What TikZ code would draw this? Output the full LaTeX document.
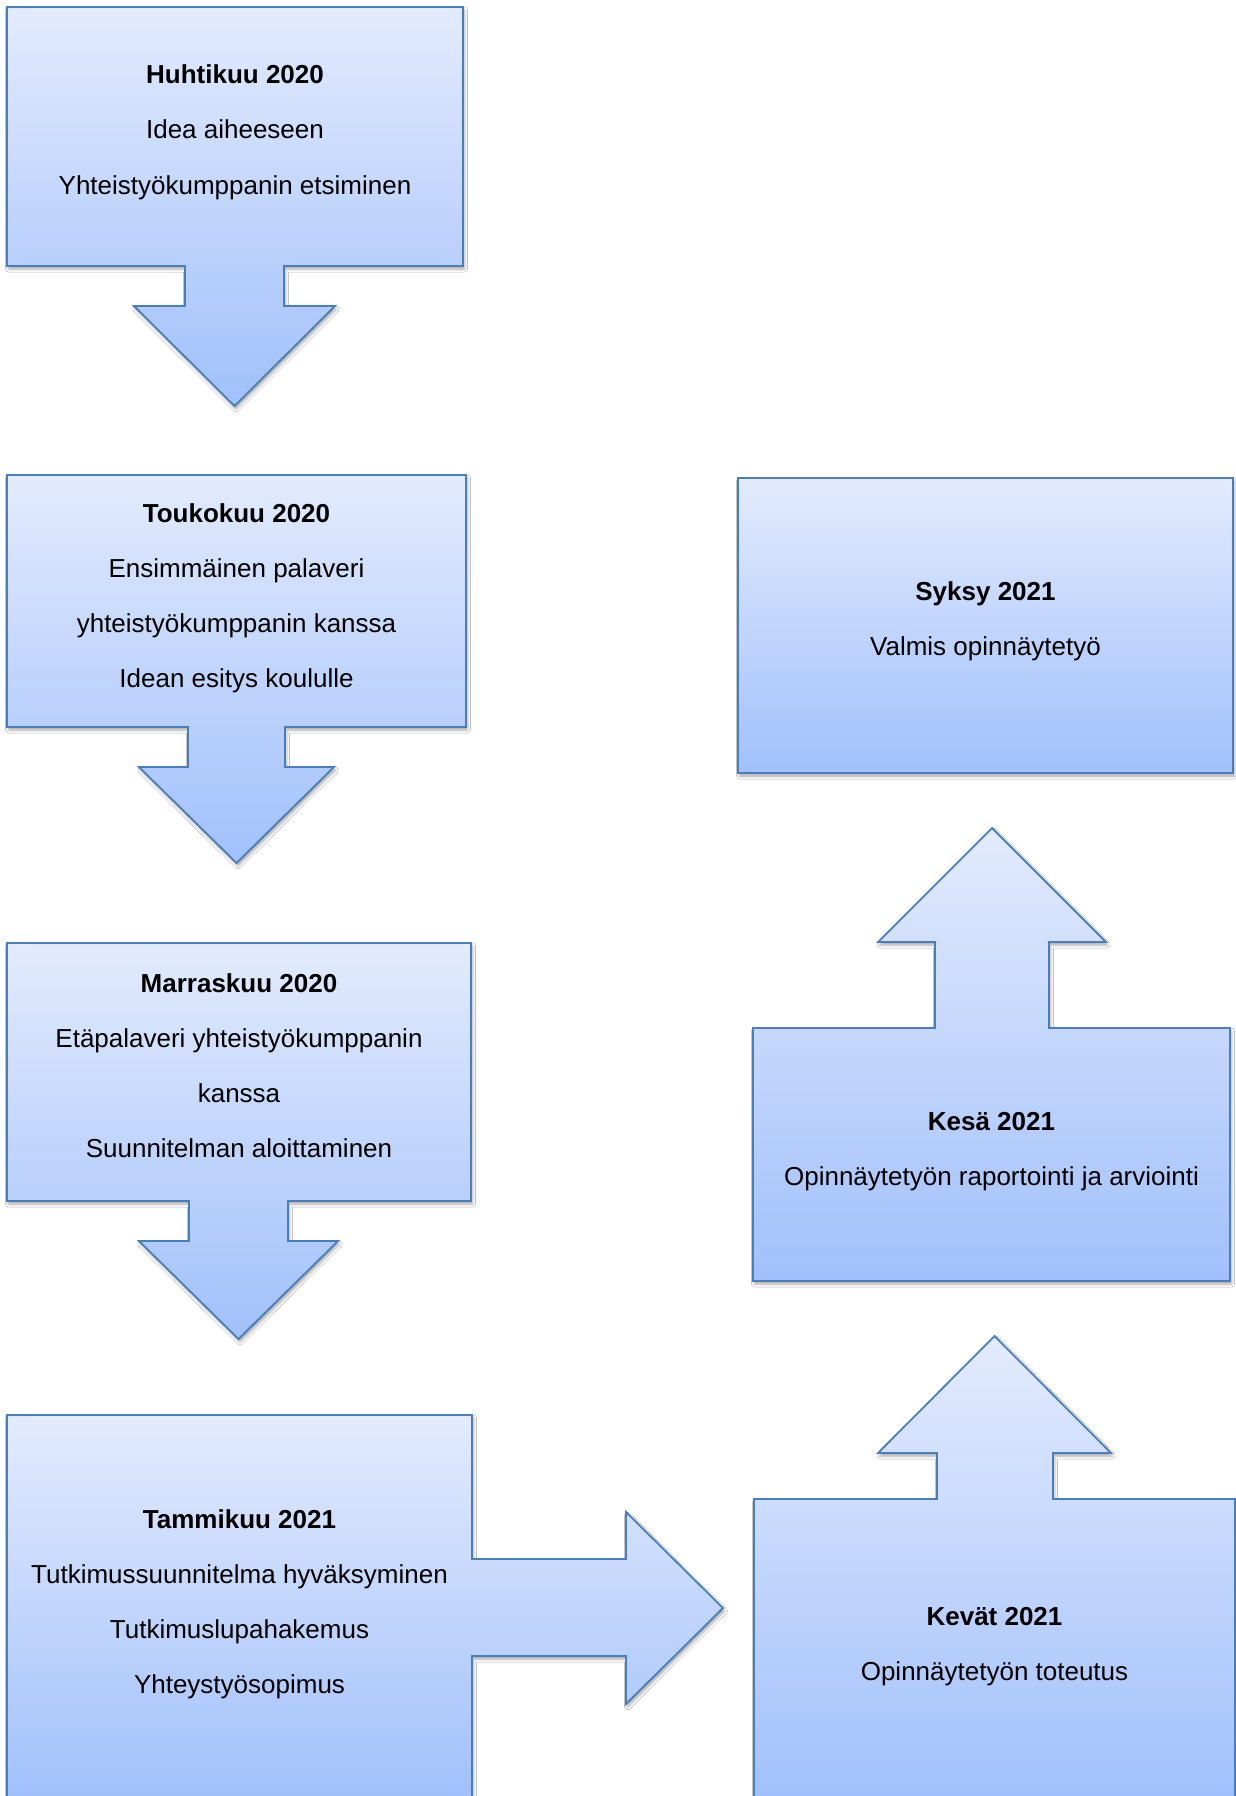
\documentclass[tikz,border=0pt]{standalone}
\usepackage{fontspec}
\setmainfont{Liberation Sans}
\usetikzlibrary{shadows.blur}
\definecolor{gtop}{RGB}{227,235,253}
\definecolor{gbot}{RGB}{161,192,251}
\definecolor{edge}{RGB}{74,126,187}
\begin{document}
\begin{tikzpicture}[x=1pt,y=-1pt,
  shapebox/.style={draw=edge, line width=1.8pt, line join=miter, top color=gtop, bottom color=gbot,
    blur shadow={shadow xshift=1.5pt, shadow yshift=-3pt, shadow blur radius=3pt, shadow opacity=35}},
  txt/.style={anchor=base, inner sep=0pt, font=\fontsize{26}{31}\selectfont, text=black}]
\useasboundingbox (0,0) rectangle (1236,1796);
\fill[white] (0,0) rectangle (1236,1796);
\clip (0,0) rectangle (1236,1796);
% Huhtikuu 2020
\path[shapebox] (7,7) -- (463,7) -- (463,266) -- (284,266) -- (284,306) -- (335,306) -- (234.5,406)
  -- (134,306) -- (185,306) -- (185,266) -- (7,266) -- cycle;
% Toukokuu 2020
\path[shapebox] (7,475) -- (466,475) -- (466,727) -- (285,727) -- (285,767) -- (334,767) -- (236.5,863)
  -- (139,767) -- (188,767) -- (188,727) -- (7,727) -- cycle;
% Marraskuu 2020
\path[shapebox] (7,943) -- (471,943) -- (471,1201) -- (288,1201) -- (288,1241) -- (338,1241) -- (238.5,1339)
  -- (139,1241) -- (189,1241) -- (189,1201) -- (7,1201) -- cycle;
% Tammikuu 2021
\path[shapebox] (7,1415) -- (472,1415) -- (472,1559) -- (626,1559) -- (626,1512) -- (723,1608)
  -- (626,1704) -- (626,1656) -- (472,1656) -- (472,1800) -- (7,1800) -- cycle;
% Kevät 2021
\path[shapebox] (754,1499) -- (937,1499) -- (937,1453) -- (878,1453) -- (994.5,1336) -- (1111,1453)
  -- (1053,1453) -- (1053,1499) -- (1235,1499) -- (1235,1800) -- (754,1800) -- cycle;
% Kesä 2021
\path[shapebox] (753,1028) -- (935,1028) -- (935,942) -- (878,942) -- (992,828) -- (1106,942)
  -- (1049,942) -- (1049,1028) -- (1230,1028) -- (1230,1281) -- (753,1281) -- cycle;
% Syksy 2021
\path[shapebox] (738,478) rectangle (1233,773);

% texts
\node[txt] (a1) at (235,83) {\textbf{Huhtikuu 2020}};
\node[txt] (a2) at (235,138) {Idea aiheeseen};
\node[txt] (a3) at (235,194) {Yhteistyökumppanin etsiminen};

\node[txt] (b1) at (236.5,522) {\textbf{Toukokuu 2020}};
\node[txt] (b2) at (236.5,577) {Ensimmäinen palaveri};
\node[txt] (b3) at (236.5,632) {yhteistyökumppanin kanssa};
\node[txt] (b4) at (236.5,687) {Idean esitys koululle};

\node[txt] (c1) at (239,992) {\textbf{Marraskuu 2020}};
\node[txt] (c2) at (239,1047) {Etäpalaveri yhteistyökumppanin};
\node[txt] (c3) at (239,1102) {kanssa};
\node[txt] (c4) at (239,1157) {Suunnitelman aloittaminen};

\node[txt] (d1) at (239.5,1528) {\textbf{Tammikuu 2021}};
\node[txt] (d2) at (239.5,1583) {Tutkimussuunnitelma hyväksyminen};
\node[txt] (d3) at (239.5,1638) {Tutkimuslupahakemus};
\node[txt] (d4) at (239.5,1693) {Yhteystyösopimus};

\node[txt] (e1) at (994.5,1625) {\textbf{Kevät 2021}};
\node[txt] (e2) at (994.5,1680) {Opinnäytetyön toteutus};

\node[txt] (f1) at (991.5,1130) {\textbf{Kesä 2021}};
\node[txt] (f2) at (991.5,1185) {Opinnäytetyön raportointi ja arviointi};

\node[txt] (g1) at (985.5,600) {\textbf{Syksy 2021}};
\node[txt] (g2) at (985.5,655) {Valmis opinnäytetyö};
\end{tikzpicture}
\end{document}
